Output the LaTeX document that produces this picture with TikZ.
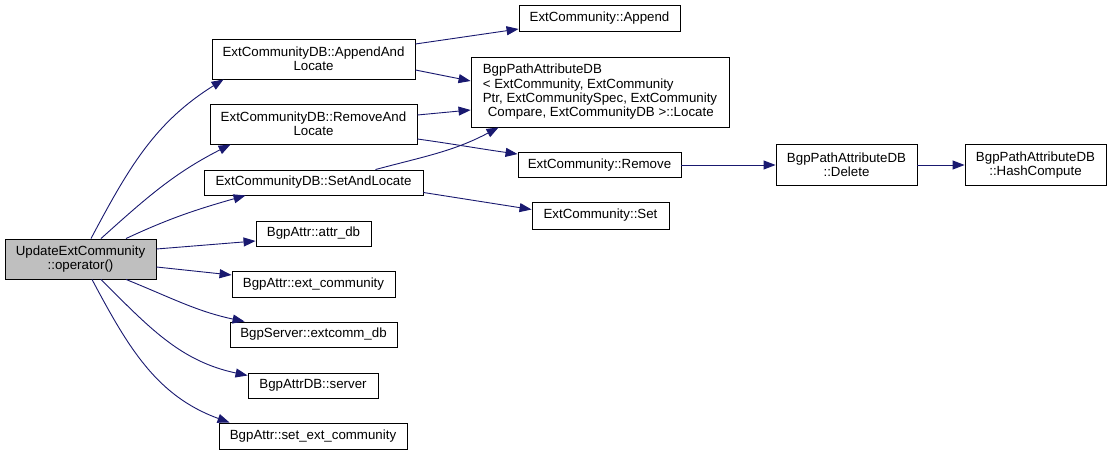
\documentclass[tikz,border=0pt]{standalone}
\usepackage{fontspec}
\setmainfont{Liberation Sans}
\usetikzlibrary{arrows.meta,calc}
\definecolor{edgeblue}{HTML}{191970}
\definecolor{graybox}{HTML}{BFBFBF}
\begin{document}
\begin{tikzpicture}[x=1pt,y=1pt,
  box/.style={draw=black,line width=0.9pt,fill=white,inner sep=0pt,align=center,
    font=\fontsize{13.3}{14.3}\selectfont},
  edge/.style={draw=edgeblue,line width=0.9pt,-{Triangle[length=12pt,width=9pt]},fill=none}]
\useasboundingbox (0,0) rectangle (1111,455);
\fill[white] (0,0) rectangle (1111,455);
\node[box,fill=graybox,minimum width=151,minimum height=40] (u) at (80.5,196) {UpdateExtCommunity\\::operator()};
\node[box,minimum width=203,minimum height=40] (aal) at (313.5,396) {ExtCommunityDB::AppendAnd\\Locate};
\node[box,minimum width=207,minimum height=40] (ral) at (313.5,331) {ExtCommunityDB::RemoveAnd\\Locate};
\node[box,minimum width=219,minimum height=25] (sal) at (313.5,272.5) {ExtCommunityDB::SetAndLocate};
\node[box,minimum width=115,minimum height=25] (adb) at (313.5,221.5) {BgpAttr::attr\_db};
\node[box,minimum width=163,minimum height=26] (ec) at (313.5,171) {BgpAttr::ext\_community};
\node[box,minimum width=167,minimum height=25] (ecdb) at (313.5,120.5) {BgpServer::extcomm\_db};
\node[box,minimum width=130,minimum height=25] (srv) at (313,69.5) {BgpAttrDB::server};
\node[box,minimum width=188,minimum height=26] (sec) at (313,19) {BgpAttr::set\_ext\_community};
\node[box,minimum width=161,minimum height=26] (app) at (599.5,437) {ExtCommunity::Append};
\node[box,minimum width=258,minimum height=70,align=left] (loc) at (600,363) {BgpPathAttributeDB\\\textless{} ExtCommunity, ExtCommunity\\Ptr, ExtCommunitySpec, ExtCommunity\\\hspace{5pt}Compare, ExtCommunityDB \textgreater::Locate};
\node[box,minimum width=163,minimum height=25] (rem) at (599.5,290) {ExtCommunity::Remove};
\node[box,minimum width=137,minimum height=27] (set) at (600.5,239.5) {ExtCommunity::Set};
\node[box,minimum width=141,minimum height=41] (del) at (846.5,290) {BgpPathAttributeDB\\::Delete};
\node[box,minimum width=141,minimum height=41] (hc) at (1035.5,290) {BgpPathAttributeDB\\::HashCompute};
% edges from UpdateExtCommunity
\draw[edge] ([xshift=10.5pt]u.north) to[out=62,in=212] ([xshift=12pt]aal.south west);
\draw[edge] ([xshift=20.5pt]u.north) to[out=42,in=207] ([xshift=21pt]ral.south west);
\draw[edge] ([xshift=45.5pt]u.north) to[out=25,in=196] ([xshift=42pt]sal.south west);
\draw[edge] ([yshift=10pt]u.east) -- ([yshift=-7.5pt]adb.west);
\draw[edge] ([yshift=-8pt]u.east) -- ([yshift=9pt]ec.west);
\draw[edge] ([xshift=45.5pt]u.south) to[out=-22,in=168] ([xshift=15pt]ecdb.north west);
\draw[edge] ([xshift=20.5pt]u.south) to[out=-45,in=168] ([yshift=10pt]srv.west);
\draw[edge] ([xshift=11.5pt]u.south) to[out=-62,in=160] ([xshift=11pt]sec.north west);
% second level
\draw[edge] ([yshift=15pt]aal.east) -- ([yshift=-11pt]app.west);
\draw[edge] ([yshift=-11pt]aal.east) -- ([yshift=11pt]loc.west);
\draw[edge] ([yshift=9pt]ral.east) -- ([yshift=-18pt]loc.west);
\draw[edge] ([yshift=-15pt]ral.east) to[out=-8,in=172] ([yshift=-2pt]rem.north west);
\draw[edge] ([xshift=62pt]sal.north) to[out=15,in=208] ([xshift=28pt]loc.south west);
\draw[edge] ([yshift=-10pt]sal.east) -- ([yshift=6pt]set.west);
\draw[edge] (rem.east) -- (del.west);
\draw[edge] (del.east) -- (hc.west);
\end{tikzpicture}
\end{document}
